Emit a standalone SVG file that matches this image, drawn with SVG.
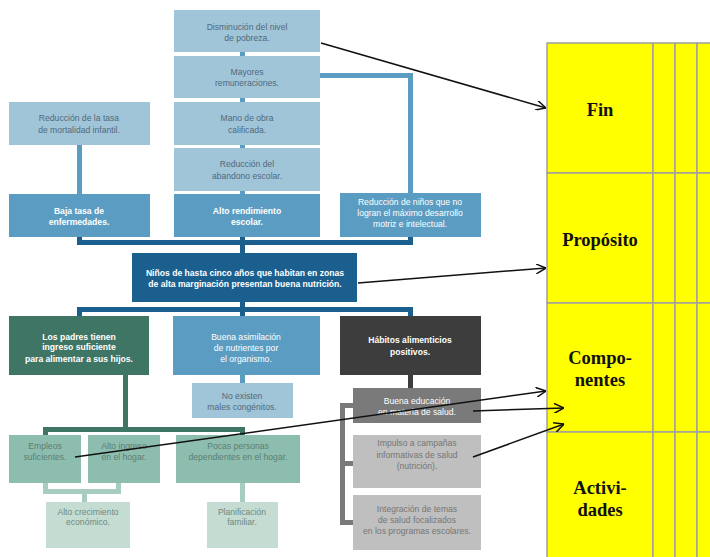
<svg xmlns="http://www.w3.org/2000/svg" width="710" height="557" viewBox="0 0 710 557">
<defs>
<style>
text{font-family:"Liberation Sans",Arial,sans-serif;font-size:8.6px;text-anchor:middle}
.lb{fill:#a0c5d9}.mb{fill:#5a9cc2}.db{fill:#1b5f8f}.dg{fill:#3f7565}.lt{fill:#8dbdae}.vl{fill:#c5dcd3}
.hg{fill:#3d3d3d}.mg{fill:#7a7a7a}.pg{fill:#bfbfbf}
.tl{fill:#51697a}.tw{fill:#ffffff}.tb{fill:#ffffff;font-weight:bold}.tt{fill:#5d7d72}.tv{fill:#6d8a80}.tg{fill:#767676}
.c{fill:none;stroke-width:5}
.a{fill:none;stroke:#111;stroke-width:1.5}
.cell{fill:#ffff00;stroke:#a0a0a0;stroke-width:1.5}
.ht{font-family:"Liberation Serif","Times New Roman",serif;font-weight:bold;font-size:18.5px;fill:#111}
</style>
<marker id="ah" viewBox="0 0 10 10" refX="10" refY="5" markerWidth="10" markerHeight="10" markerUnits="userSpaceOnUse" orient="auto">
<path d="M0,0 L10,5 L0,10" fill="none" stroke="#111" stroke-width="1.5"/>
</marker>
</defs>
<rect width="710" height="557" fill="#fff"/>

<g id="table">
<rect class="cell" x="547" y="43" width="106" height="130"/>
<rect class="cell" x="653" y="43" width="22" height="130"/>
<rect class="cell" x="675" y="43" width="22" height="130"/>
<rect class="cell" x="697" y="43" width="22" height="130"/>
<rect class="cell" x="547" y="173" width="106" height="130"/>
<rect class="cell" x="653" y="173" width="22" height="130"/>
<rect class="cell" x="675" y="173" width="22" height="130"/>
<rect class="cell" x="697" y="173" width="22" height="130"/>
<rect class="cell" x="547" y="303" width="106" height="129"/>
<rect class="cell" x="653" y="303" width="22" height="129"/>
<rect class="cell" x="675" y="303" width="22" height="129"/>
<rect class="cell" x="697" y="303" width="22" height="129"/>
<rect class="cell" x="547" y="432" width="106" height="130"/>
<rect class="cell" x="653" y="432" width="22" height="130"/>
<rect class="cell" x="675" y="432" width="22" height="130"/>
<rect class="cell" x="697" y="432" width="22" height="130"/>
<text class="ht" x="600" y="116">Fin</text>
<text class="ht" x="600" y="246">Propósito</text>
<text class="ht" x="600" y="364">Compo-</text>
<text class="ht" x="600" y="386">nentes</text>
<text class="ht" x="600" y="494">Activi-</text>
<text class="ht" x="600" y="516">dades</text>
</g>

<g id="connectors">
<path class="c" stroke="#5a9cc2" d="M242.5,52V194M79.5,145V194M320,75.5H410.5V193M242.5,375V383"/>
<path class="c" stroke="#1b5f8f" d="M79.5,237V242.5H410.5V237M242.5,237V253M79.5,316V309.5H410.5V316M242.5,302V316"/>
<path class="c" stroke="#3f7565" d="M125.5,375V430M45.5,435V429.5H242.5V435"/>
<path class="c" stroke="#a6cdc0" d="M45.5,483V491.5H118.5V483M84.5,491V502M242.5,483V502"/>
<path class="c" stroke="#3d3d3d" d="M410.5,375V388"/>
<path class="c" stroke="#7a7a7a" d="M353,405.5H342.5V522.5H353M342.5,463.5H353"/>
</g>

<g id="n-pobreza"><rect class="lb" x="174" y="10" width="146" height="42"/><text class="tl" x="247" y="30">Disminución del nivel</text><text class="tl" x="247" y="41">de pobreza.</text></g>
<g id="n-remuneraciones"><rect class="lb" x="174" y="56" width="146" height="42"/><text class="tl" x="247" y="75">Mayores</text><text class="tl" x="247" y="86">remuneraciones.</text></g>
<g id="n-manoobra"><rect class="lb" x="174" y="102" width="146" height="43"/><text class="tl" x="247" y="121">Mano de obra</text><text class="tl" x="247" y="133">calificada.</text></g>
<g id="n-abandono"><rect class="lb" x="174" y="148" width="146" height="43"/><text class="tl" x="247" y="167">Reducción del</text><text class="tl" x="247" y="179">abandono escolar.</text></g>
<g id="n-rendimiento"><rect class="mb" x="174" y="194" width="146" height="43"/><text class="tb" x="247" y="214">Alto rendimiento</text><text class="tb" x="247" y="225">escolar.</text></g>
<g id="n-mortalidad"><rect class="lb" x="9" y="102" width="141" height="43"/><text class="tl" x="79" y="121">Reducción de la tasa</text><text class="tl" x="79" y="133">de mortalidad infantil.</text></g>
<g id="n-enfermedades"><rect class="mb" x="9" y="194" width="141" height="43"/><text class="tb" x="79" y="214">Baja tasa de</text><text class="tb" x="79" y="225">enfermedades.</text></g>
<g id="n-desarrollo"><rect class="mb" x="340" y="193" width="141" height="44"/><text class="tw" x="410" y="205">Reducción de niños que no</text><text class="tw" x="410" y="216">logran el máximo desarrollo</text><text class="tw" x="410" y="227">motriz e intelectual.</text></g>
<g id="n-proposito"><rect class="db" x="132" y="253" width="225" height="49"/><text class="tb" x="245" y="276">Niños de hasta cinco años que habitan en zonas</text><text class="tb" x="245" y="287">de alta marginación presentan buena nutrición.</text></g>
<g id="n-padres"><rect class="dg" x="9" y="316" width="140" height="59"/><text class="tb" x="79" y="340">Los padres tienen</text><text class="tb" x="79" y="350">ingreso suficiente</text><text class="tb" x="79" y="362">para alimentar a sus hijos.</text></g>
<g id="n-asimilacion"><rect class="mb" x="173" y="316" width="147" height="59"/><text class="tw" x="246" y="340">Buena asimilación</text><text class="tw" x="246" y="351">de nutrientes por</text><text class="tw" x="246" y="362">el organismo.</text></g>
<g id="n-congenitos"><rect class="lb" x="192" y="383" width="101" height="35"/><text class="tl" x="242" y="399">No existen</text><text class="tl" x="242" y="410">males congénitos.</text></g>
<g id="n-habitos"><rect class="hg" x="340" y="316" width="141" height="59"/><text class="tb" x="410" y="343">Hábitos alimenticios</text><text class="tb" x="410" y="355">positivos.</text></g>
<g id="n-educacion"><rect class="mg" x="353" y="388" width="128" height="35"/><text class="tw" x="417" y="404">Buena educación</text><text class="tw" x="417" y="415">en materia de salud.</text></g>
<g id="n-campanas"><rect class="pg" x="353" y="435" width="128" height="53"/><text class="tg" x="417" y="446">Impulso a campañas</text><text class="tg" x="417" y="458">informativas de salud</text><text class="tg" x="417" y="469">(nutrición).</text></g>
<g id="n-integracion"><rect class="pg" x="353" y="495" width="128" height="55"/><text class="tg" x="417" y="512">Integración de temas</text><text class="tg" x="417" y="523">de salud focalizados</text><text class="tg" x="417" y="534">en los programas escolares.</text></g>
<g id="n-empleos"><rect class="lt" x="9" y="435" width="72" height="48"/><text class="tt" x="45" y="449">Empleos</text><text class="tt" x="45" y="460">suficientes.</text></g>
<g id="n-ingreso"><rect class="lt" x="88" y="435" width="72" height="48"/><text class="tt" x="124" y="449">Alto ingreso</text><text class="tt" x="124" y="460">en el hogar.</text></g>
<g id="n-dependientes"><rect class="lt" x="176" y="435" width="124" height="48"/><text class="tt" x="238" y="449">Pocas personas</text><text class="tt" x="238" y="460">dependientes en el hogar.</text></g>
<g id="n-crecimiento"><rect class="vl" x="46" y="502" width="84" height="46"/><text class="tv" x="88" y="515">Alto crecimiento</text><text class="tv" x="88" y="525">económico.</text></g>
<g id="n-planificacion"><rect class="vl" x="207" y="502" width="71" height="46"/><text class="tv" x="242" y="515">Planificación</text><text class="tv" x="242" y="525">familiar.</text></g>

<g id="arrows">
<line class="a" x1="321" y1="43" x2="546" y2="108" marker-end="url(#ah)"/>
<line class="a" x1="358" y1="283" x2="546" y2="268" marker-end="url(#ah)"/>
<line class="a" x1="75" y1="457" x2="546" y2="391" marker-end="url(#ah)"/>
<line class="a" x1="473" y1="411" x2="564" y2="408" marker-end="url(#ah)"/>
<line class="a" x1="473" y1="457" x2="564" y2="424" marker-end="url(#ah)"/>
</g>
</svg>
